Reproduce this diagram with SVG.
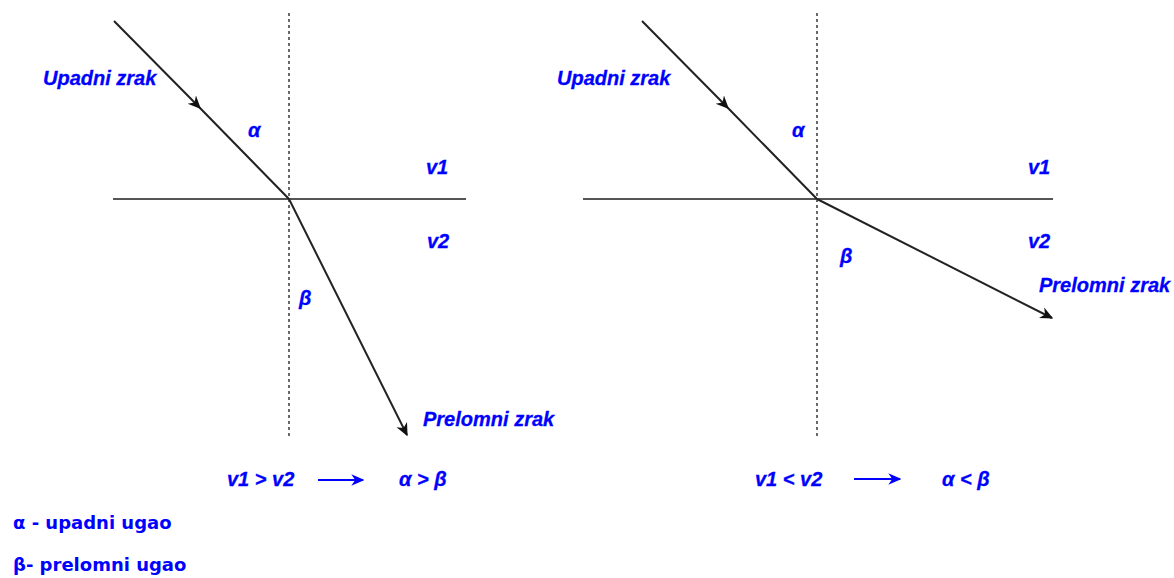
<svg xmlns="http://www.w3.org/2000/svg" width="1174" height="578" viewBox="0 0 1174 578">
<style>
.lbl{font-family:"Liberation Sans",Arial,sans-serif;font-size:20px;font-weight:bold;font-style:italic;fill:#0000ff;stroke:#0000ff;stroke-width:0.3}
.leg{font-family:"DejaVu Sans",Verdana,sans-serif;font-size:18px;font-weight:bold;fill:#0000ff}
.ray{fill:none;stroke:#222;stroke-width:2}
.surf{fill:none;stroke:#555;stroke-width:2}
.norm{fill:none;stroke:#444;stroke-width:1.6;stroke-dasharray:3 3}
.blue{fill:none;stroke:#0000ff;stroke-width:2}
</style>
<defs>
<marker id="ah" viewBox="0 0 10 10" refX="9" refY="5" markerWidth="13" markerHeight="13" markerUnits="userSpaceOnUse" orient="auto">
<path d="M0,0.5 L10,5 L0,9.5 L3,5 Z" fill="#111"/>
</marker>
<marker id="ahm" viewBox="0 0 10 10" refX="9" refY="5" markerWidth="13" markerHeight="13" markerUnits="userSpaceOnUse" orient="auto">
<path d="M0,0.5 L10,5 L0,9.5 L3,5 Z" fill="#111"/>
</marker>
<marker id="ahb" viewBox="0 0 10 10" refX="9" refY="5" markerWidth="13" markerHeight="13" markerUnits="userSpaceOnUse" orient="auto">
<path d="M0,0.5 L10,5 L0,9.5 L3,5 Z" fill="#0000ff"/>
</marker>
</defs>
<g id="connectors">
<line class="norm" x1="289" y1="13" x2="289" y2="436"/>
<line class="surf" x1="113" y1="199" x2="466" y2="199"/>
<path class="ray" d="M114,21 L200,108 L289,199" marker-mid="url(#ahm)"/>
<line class="ray" x1="289" y1="199" x2="407" y2="435" marker-end="url(#ah)"/>
<line class="norm" x1="817" y1="13" x2="817" y2="436"/>
<line class="surf" x1="583" y1="199" x2="1053" y2="199"/>
<path class="ray" d="M642,21 L728,108 L817,199" marker-mid="url(#ahm)"/>
<line class="ray" x1="817" y1="199" x2="1052" y2="318" marker-end="url(#ah)"/>
<line class="blue" x1="318" y1="480" x2="363" y2="480" marker-end="url(#ahb)"/>
<line class="blue" x1="854" y1="479" x2="900" y2="479" marker-end="url(#ahb)"/>
</g>
<g id="left-labels">
<text class="lbl" x="43" y="85">Upadni zrak</text>
<text class="lbl" x="248" y="137">α</text>
<text class="lbl" x="426" y="174">v1</text>
<text class="lbl" x="427" y="248">v2</text>
<text class="lbl" x="299" y="305">β</text>
<text class="lbl" x="423" y="426">Prelomni zrak</text>
<text class="lbl" x="227" y="486">v1 &gt; v2</text>
<text class="lbl" x="399" y="486">α &gt; β</text>
</g>
<g id="right-labels">
<text class="lbl" x="557" y="85">Upadni zrak</text>
<text class="lbl" x="792" y="137">α</text>
<text class="lbl" x="1028" y="174">v1</text>
<text class="lbl" x="1028" y="248">v2</text>
<text class="lbl" x="840" y="263">β</text>
<text class="lbl" x="1039" y="292">Prelomni zrak</text>
<text class="lbl" x="755" y="486">v1 &lt; v2</text>
<text class="lbl" x="942" y="486">α &lt; β</text>
</g>
<g id="legend">
<text class="leg" x="13" y="529">α - upadni ugao</text>
<text class="leg" x="13" y="571">β- prelomni ugao</text>
</g>
</svg>
